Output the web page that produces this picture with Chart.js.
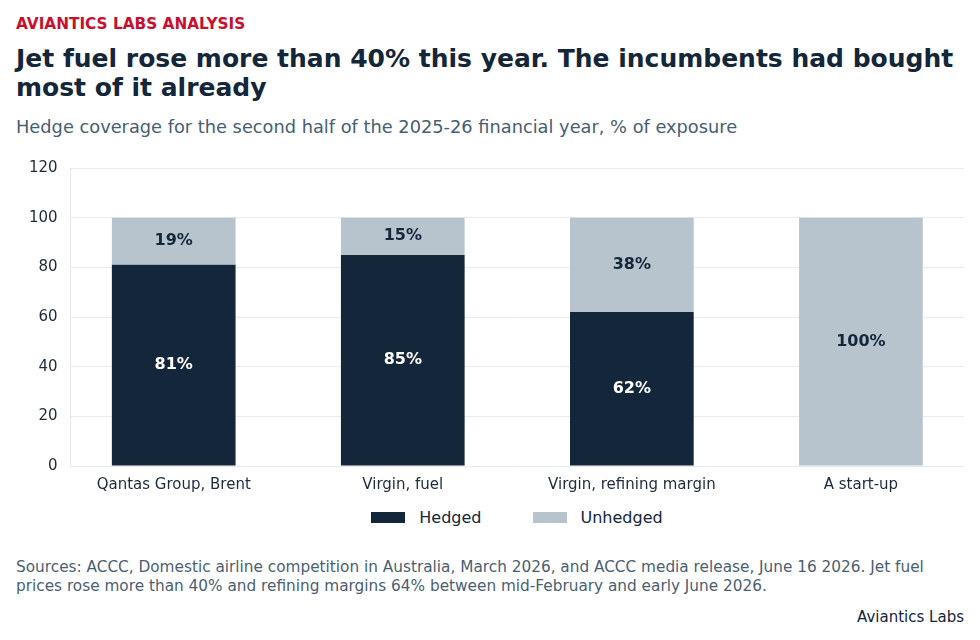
<!DOCTYPE html>
<html>
<head>
<meta charset="utf-8">
<script src="https://cdn.jsdelivr.net/npm/chart.js@4.4.1/dist/chart.umd.min.js"></script>
<style>
  html, body { margin: 0; padding: 0; background: #fff; }
  body { width: 980px; height: 640px; position: relative; font-family: 'DejaVu Sans', sans-serif; overflow: hidden; }
  .kicker { position: absolute; left: 16px; top: 15px; font-size: 15.3px; font-weight: bold; color: #c8102e; }
  .title { position: absolute; left: 16px; top: 44px; width: 960px; font-size: 25px; line-height: 29px; font-weight: bold; color: #13263a; }
  .subtitle { position: absolute; left: 16px; top: 116px; font-size: 17.8px; color: #475d73; }
  .chart-wrap { position: absolute; left: 16px; top: 146px; width: 948px; height: 358px; }
  .legend { position: absolute; left: 70px; top: 508px; width: 894px; display: flex; justify-content: center; gap: 51px; font-size: 16px; color: #13263a; }
  .legend .item { display: flex; align-items: center; }
  .legend .swatch { width: 34px; height: 11px; margin-right: 14px; }
  .source { position: absolute; left: 16px; top: 558px; width: 950px; font-size: 15.3px; line-height: 19px; color: #4a5e72; }
  .brand { position: absolute; right: 16px; top: 608px; font-size: 15px; color: #13263a; }
</style>
</head>
<body>
  <div class="kicker">AVIANTICS LABS ANALYSIS</div>
  <div class="title">Jet fuel rose more than 40% this year. The incumbents had bought most of it already</div>
  <div class="subtitle">Hedge coverage for the second half of the 2025-26 financial year, % of exposure</div>
  <div class="chart-wrap"><canvas id="chart"></canvas></div>
  <div class="legend" id="legend"></div>
  <div class="source">Sources: ACCC, Domestic airline competition in Australia, March 2026, and ACCC media release, June 16 2026. Jet fuel prices rose more than 40% and refining margins 64% between mid-February and early June 2026.</div>
  <div class="brand">Aviantics Labs</div>

<script>
// ── Data ──
const categories = ['Qantas Group, Brent', 'Virgin, fuel', 'Virgin, refining margin', 'A start-up']
const hedged = [81, 85, 62, 0]
const unhedged = [19, 15, 38, 100]
const yTicks = [0, 20, 40, 60, 80, 100, 120]

const NAVY = '#13263a'
const GREY = '#b8c4cd'

// bars sit on a numeric x axis (0..3) so the outer padding can match the band layout
const toPoints = arr => arr.map((v, i) => ({ x: i, y: v }))

// draw the % label in the middle of each segment
const segmentLabels = {
  id: 'segmentLabels',
  afterDatasetsDraw (chart) {
    const ctx = chart.ctx
    ctx.save()
    ctx.font = 'bold 16px "DejaVu Sans", sans-serif'
    ctx.textAlign = 'center'
    ctx.textBaseline = 'middle'
    chart.data.datasets.forEach((ds, i) => {
      const meta = chart.getDatasetMeta(i)
      meta.data.forEach((bar, j) => {
        const v = ds.data[j].y
        if (!v) return
        const props = bar.getProps(['x', 'y', 'base'], true)
        ctx.fillStyle = i === 0 ? '#ffffff' : NAVY
        ctx.fillText(v + '%', props.x, (props.y + props.base) / 2)
      })
    })
    ctx.restore()
  }
}

const chart = new Chart(document.getElementById('chart'), {
  type: 'bar',
  data: {
    labels: categories,
    datasets: [
      { label: 'Hedged', data: toPoints(hedged), backgroundColor: NAVY },
      { label: 'Unhedged', data: toPoints(unhedged), backgroundColor: GREY }
    ]
  },
  options: {
    responsive: true, maintainAspectRatio: false, animation: false,
    categoryPercentage: 0.6, barPercentage: 0.9,
    layout: { padding: 0 },
    scales: {
      x: {
        type: 'linear', stacked: true, offset: false,
        min: -0.45, max: categories.length - 1 + 0.45,
        afterBuildTicks: axis => { axis.ticks = categories.map((_, i) => ({ value: i })) },
        grid: { display: false, drawTicks: false, offset: false },
        border: { color: '#e5e8ec' },
        ticks: {
          color: '#1e293b', font: { family: 'DejaVu Sans', size: 15 }, padding: 10, maxRotation: 0,
          callback: v => categories[v]
        }
      },
      y: {
        stacked: true, min: 0, max: 120,
        afterBuildTicks: axis => { axis.ticks = yTicks.map(v => ({ value: v })) },
        grid: { color: '#e8ebef', drawTicks: false },
        border: { color: '#e5e8ec' },
        ticks: { color: '#1e293b', font: { family: 'DejaVu Sans', size: 15 }, padding: 13 }
      }
    },
    plugins: {
      legend: { display: false },
      tooltip: { enabled: false }
    }
  },
  plugins: [segmentLabels]
})

// ── HTML legend from the datasets ──
document.getElementById('legend').innerHTML = chart.data.datasets.map(ds =>
  `<div class="item"><span class="swatch" style="background:${ds.backgroundColor}"></span>${ds.label}</div>`
).join('')
</script>
</body>
</html>
